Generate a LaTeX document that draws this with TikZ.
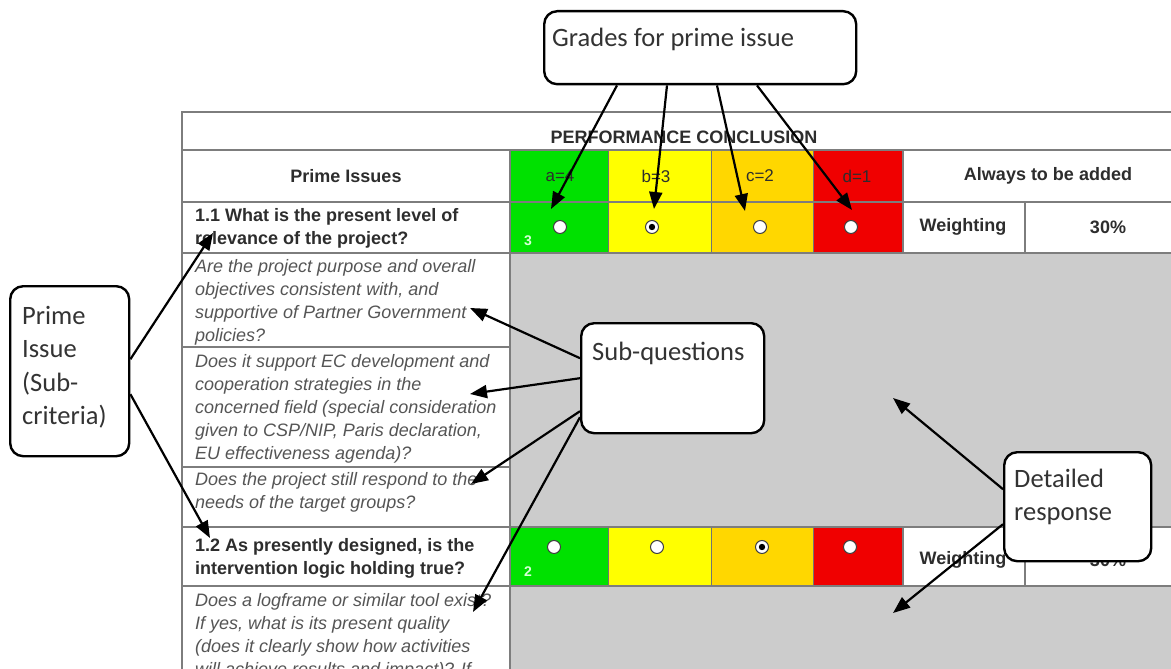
\documentclass[tikz,border=0pt]{standalone}
\usepackage{fontspec}
\setmainfont{Liberation Sans}
\newfontfamily\boxfont{Carlito}
\usetikzlibrary{arrows.meta}

\definecolor{gradeA}{RGB}{0,225,0}
\definecolor{gradeB}{RGB}{255,255,0}
\definecolor{gradeC}{RGB}{255,215,0}
\definecolor{gradeD}{RGB}{240,0,0}
\definecolor{answer}{RGB}{204,204,204}
\definecolor{rulegray}{RGB}{125,125,125}
\definecolor{ink}{RGB}{45,45,45}
\definecolor{askink}{RGB}{85,85,85}

\begin{document}
\begin{tikzpicture}[x=1pt,y=-1pt,
    callout/.style={draw,line width=2.4pt,fill=white,rounded corners=13pt,inner sep=0pt,anchor=north west},
    callouttext/.style={font=\boxfont\fontsize{26.5}{33.5}\selectfont,text=black!80,align=left,inner sep=0pt,anchor=north west},
    pointer/.style={line width=2.2pt,-{Triangle[length=17pt,width=13pt]}},
    tabline/.style={draw=rulegray,line width=1.6pt},
    cellline/.style={draw=black!55,line width=0.8pt},
    headtext/.style={font=\bfseries\fontsize{18}{23}\selectfont,text=ink,inner sep=0pt},
    gradetext/.style={font=\fontsize{17}{20}\selectfont,text=ink,inner sep=0pt},
    issuetext/.style={headtext,align=left,anchor=north west},
    asktext/.style={font=\itshape\fontsize{18}{23}\selectfont,text=askink,align=left,inner sep=0pt,anchor=north west},
    scoretext/.style={font=\bfseries\fontsize{14}{16}\selectfont,text=white!85!green,inner sep=0pt},
    radio/.style={circle,draw=black!75,fill=white,line width=1pt,minimum size=13pt,inner sep=0pt},
    chosen/.style={radio,path picture={\fill[black] (path picture bounding box.center) circle (3.2pt);}}
]
\useasboundingbox (0,0) rectangle (1171,669);
\clip (0,0) rectangle (1171,669);
\fill[white] (0,0) rectangle (1171,669);

% table background
\fill[answer] (510,253) rectangle (1171,527);
\fill[answer] (510,586) rectangle (1171,669);
\foreach \ya/\yb in {150/253,527/586}{
  \fill[gradeA] (510,\ya) rectangle (608,\yb);
  \fill[gradeB] (608,\ya) rectangle (711,\yb);
  \fill[gradeC] (711,\ya) rectangle (813,\yb);
  \fill[gradeD] (813,\ya) rectangle (903,\yb);
  \draw[cellline] (608,\ya) -- (608,\yb) (711,\ya) -- (711,\yb) (813,\ya) -- (813,\yb);
}

% table rules
\draw[tabline] (182,669) -- (182,112) -- (1171,112);
\draw[tabline] (182,150) -- (1171,150);
\draw[tabline] (182,202) -- (1171,202);
\draw[tabline] (182,253) -- (1171,253);
\draw[tabline] (182,347) -- (510,347);
\draw[tabline] (182,467) -- (510,467);
\draw[tabline] (182,527) -- (1171,527);
\draw[tabline] (182,586) -- (1171,586);
\draw[tabline] (510,150) -- (510,669);
\draw[tabline] (903,150) -- (903,253) (903,527) -- (903,586);
\draw[tabline] (1025,202) -- (1025,253) (1025,527) -- (1025,586);

% headings
\node[headtext] (title) at (684,137) {PERFORMANCE CONCLUSION};
\node[headtext] (primehead) at (346,176) {Prime Issues};
\node[gradetext] (gA) at (560,176) {a=4};
\node[gradetext] (gB) at (656,176) {b=3};
\node[gradetext] (gC) at (760,176) {c=2};
\node[gradetext] (gD) at (857,176) {d=1};
\node[headtext] (added) at (1048,176) {Always to be added};

% prime issue 1.1
\node[issuetext] (issueone) at (195,208) {1.1 What is the present level of\\relevance of the project?};
\node[headtext] (weightone) at (963,227) {Weighting};
\node[headtext] (pctone) at (1108,227) {30\%};
\node[scoretext] (scoreone) at (528,241) {3};
\node[radio] (onea) at (560,227) {};
\node[chosen] (oneb) at (652,227) {};
\node[radio] (onec) at (760,227) {};
\node[radio] (oned) at (851,227) {};

% sub-questions
\node[asktext] (askA) at (195,259) {Are the project purpose and overall\\objectives consistent with, and\\supportive of Partner Government\\policies?};
\node[asktext] (askB) at (195,354) {Does it support EC development and\\cooperation strategies in the\\concerned field (special consideration\\given to CSP/NIP, Paris declaration,\\EU effectiveness agenda)?};
\node[asktext] (askC) at (195,472) {Does the project still respond to the\\needs of the target groups?};

% prime issue 1.2
\node[issuetext] (issuetwo) at (195,538) {1.2 As presently designed, is the\\intervention logic holding true?};
\node[headtext] (weighttwo) at (963,560) {Weighting};
\node[headtext] (pcttwo) at (1108,560) {30\%};
\node[scoretext] (scoretwo) at (528,572) {2};
\node[radio] (twoa) at (554,547) {};
\node[radio] (twob) at (657,547) {};
\node[chosen] (twoc) at (762,547) {};
\node[radio] (twod) at (850,547) {};
\node[asktext] (askD) at (195,593) {Does a logframe or similar tool exist?\\If yes, what is its present quality\\(does it clearly show how activities\\will achieve results and impact)? If};

% callouts
\node[callout,minimum width=312pt,minimum height=73pt] (grades) at (543,10) {};
\node[callouttext] (gradeslabel) at (552,27.5) {Grades for prime issue};
\node[callout,minimum width=119pt,minimum height=170pt] (prime) at (9,285) {};
\node[callouttext] (primelabel) at (22,306) {Prime\\Issue\\(Sub-\\criteria)};
\node[callout,minimum width=183pt,minimum height=110pt] (subq) at (580,322) {};
\node[callouttext] (subqlabel) at (592,341.5) {Sub-questions};
\node[callout,minimum width=147pt,minimum height=109pt] (detail) at (1003,451) {};
\node[callouttext] (detaillabel) at (1014,468.5) {Detailed\\response};

% arrow ends
\coordinate (tipA) at (551,209);
\coordinate (tipB) at (654,209);
\coordinate (tipC) at (745,211);
\coordinate (tipD) at (852,210);
\coordinate (tipOne) at (213,233);
\coordinate (tipTwo) at (210,538);
\coordinate (tipAskA) at (470,308);
\coordinate (tipAskB) at (470,394);
\coordinate (tipAskC) at (471,484);
\coordinate (tipAskD) at (473,612);
\coordinate (tipAnsA) at (893,398);
\coordinate (tipAnsB) at (893,613);

% connectors
\draw[pointer] ([xshift=74pt]grades.south west) -- (tipA);
\draw[pointer] ([xshift=124pt]grades.south west) -- (tipB);
\draw[pointer] ([xshift=174pt]grades.south west) -- (tipC);
\draw[pointer] ([xshift=214pt]grades.south west) -- (tipD);
\draw[pointer] ([yshift=12pt]prime.east) -- (tipOne);
\draw[pointer] ([yshift=-23pt]prime.east) -- (tipTwo);
\draw[pointer] ([yshift=20pt]subq.west) -- (tipAskA);
\draw[pointer] (subq.west) -- (tipAskB);
\draw[pointer] ([yshift=-33pt]subq.west) -- (tipAskC);
\draw[pointer] ([yshift=-39pt]subq.west) -- (tipAskD);
\draw[pointer] ([yshift=17.5pt]detail.west) -- (tipAnsA);
\draw[pointer] ([yshift=-17.5pt]detail.west) -- (tipAnsB);
\end{tikzpicture}
\end{document}
